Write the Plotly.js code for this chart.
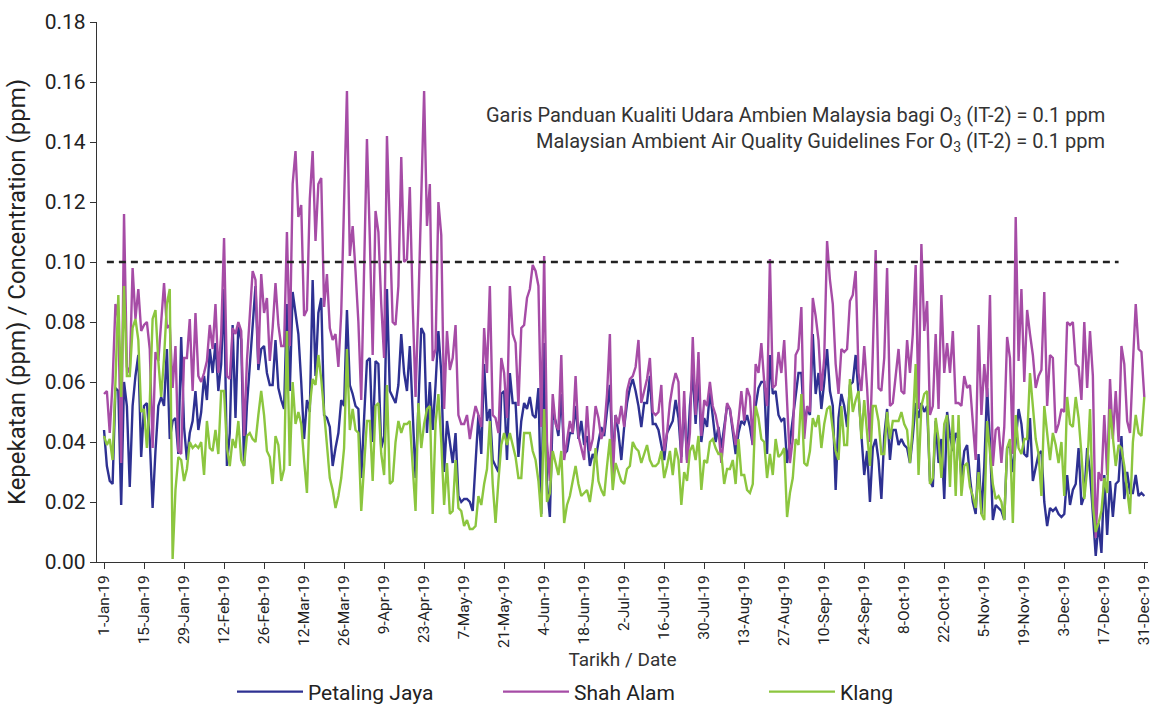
<!DOCTYPE html>
<html>
<head>
<meta charset="utf-8">
<script src="https://cdn.plot.ly/plotly-3.0.1.min.js"></script>
<style>html,body{margin:0;padding:0;background:#fff;}#chart{width:1152px;height:707px;}</style>
</head>
<body>
<div id="chart"></div>
<script>
const START_DATE = '2019-01-01';
const SERIES_NAMES = ['Petaling Jaya', 'Shah Alam', 'Klang'];
const GUIDELINE = 0.1;
const GUIDELINE_START = '2019-01-02';
const GUIDELINE_END = '2019-12-22';
const NOTE_MS = 'Garis Panduan Kualiti Udara Ambien Malaysia bagi O<sub>3</sub> (IT-2) = 0.1 ppm';
const NOTE_EN = 'Malaysian Ambient Air Quality Guidelines For O<sub>3</sub> (IT-2) = 0.1 ppm';

const TICK_DATES = ['2019-01-01','2019-01-15','2019-01-29','2019-02-12','2019-02-26','2019-03-12','2019-03-26','2019-04-09','2019-04-23','2019-05-07','2019-05-21','2019-06-04','2019-06-18','2019-07-02','2019-07-16','2019-07-30','2019-08-13','2019-08-27','2019-09-10','2019-09-24','2019-10-08','2019-10-22','2019-11-05','2019-11-19','2019-12-03','2019-12-17','2019-12-31'];
const TICK_LABELS = ['1-Jan-19','15-Jan-19','29-Jan-19','12-Feb-19','26-Feb-19','12-Mar-19','26-Mar-19','9-Apr-19','23-Apr-19','7-May-19','21-May-19','4-Jun-19','18-Jun-19','2-Jul-19','16-Jul-19','30-Jul-19','13-Aug-19','27-Aug-19','10-Sep-19','24-Sep-19','8-Oct-19','22-Oct-19','5-Nov-19','19-Nov-19','3-Dec-19','17-Dec-19','31-Dec-19'];

const PETALING_JAYA = [0.044,0.032,0.027,0.026,0.058,0.057,0.019,0.060,0.052,0.025,
0.052,0.062,0.069,0.035,0.052,0.053,0.041,0.018,0.037,0.052,
0.055,0.052,0.071,0.041,0.047,0.048,0.036,0.075,0.045,0.034,
0.043,0.047,0.057,0.044,0.050,0.062,0.054,0.071,0.063,0.073,
0.057,0.066,0.091,0.032,0.043,0.079,0.048,0.079,0.074,0.032,
0.052,0.066,0.078,0.092,0.064,0.071,0.072,0.063,0.059,0.059,
0.074,0.058,0.054,0.051,0.086,0.057,0.090,0.083,0.076,0.060,
0.041,0.054,0.050,0.094,0.062,0.083,0.088,0.049,0.048,0.045,
0.032,0.038,0.043,0.054,0.052,0.084,0.059,0.056,0.052,0.051,
0.028,0.048,0.067,0.068,0.040,0.067,0.066,0.038,0.042,0.091,
0.057,0.055,0.053,0.059,0.076,0.063,0.057,0.072,0.047,0.028,
0.052,0.078,0.076,0.043,0.060,0.044,0.059,0.077,0.063,0.030,
0.047,0.040,0.033,0.043,0.022,0.020,0.021,0.021,0.020,0.017,
0.034,0.049,0.036,0.066,0.047,0.051,0.034,0.032,0.030,0.056,
0.057,0.034,0.063,0.053,0.053,0.035,0.047,0.053,0.051,0.055,
0.049,0.048,0.058,0.016,0.073,0.026,0.015,0.050,0.047,0.042,
0.056,0.036,0.037,0.043,0.043,0.052,0.041,0.047,0.039,0.042,
0.032,0.036,0.034,0.040,0.045,0.042,0.051,0.059,0.034,0.049,
0.043,0.034,0.045,0.053,0.058,0.061,0.057,0.052,0.045,0.053,
0.053,0.062,0.046,0.046,0.044,0.039,0.034,0.043,0.045,0.047,
0.054,0.048,0.035,0.052,0.034,0.052,0.063,0.046,0.062,0.040,
0.048,0.045,0.057,0.048,0.040,0.045,0.038,0.045,0.052,0.051,
0.043,0.036,0.043,0.047,0.046,0.049,0.045,0.039,0.052,0.058,
0.060,0.060,0.036,0.069,0.056,0.057,0.049,0.047,0.048,0.033,
0.040,0.048,0.057,0.063,0.063,0.046,0.051,0.049,0.076,0.056,
0.063,0.051,0.060,0.071,0.057,0.052,0.024,0.048,0.056,0.052,
0.045,0.059,0.060,0.069,0.056,0.043,0.029,0.037,0.020,0.038,
0.041,0.034,0.021,0.042,0.051,0.034,0.044,0.044,0.039,0.041,
0.039,0.038,0.033,0.042,0.053,0.048,0.053,0.050,0.052,0.027,
0.025,0.047,0.033,0.041,0.021,0.050,0.042,0.037,0.043,0.041,
0.028,0.037,0.039,0.028,0.020,0.016,0.036,0.016,0.032,0.058,
0.040,0.014,0.019,0.018,0.017,0.014,0.038,0.039,0.030,0.040,
0.051,0.046,0.036,0.035,0.048,0.027,0.032,0.036,0.037,0.020,
0.012,0.018,0.017,0.018,0.016,0.015,0.016,0.029,0.019,0.024,
0.026,0.038,0.019,0.022,0.038,0.030,0.016,0.002,0.013,0.003,
0.029,0.009,0.027,0.015,0.026,0.027,0.042,0.021,0.030,0.023,
0.023,0.029,0.022,0.023,0.022];

const SHAH_ALAM = [0.056,0.057,0.043,0.060,0.086,0.081,0.033,0.116,0.065,0.063,
0.098,0.081,0.091,0.077,0.079,0.080,0.071,0.038,0.070,0.067,
0.080,0.093,0.078,0.079,0.058,0.072,0.037,0.036,0.068,0.068,
0.081,0.057,0.083,0.062,0.060,0.063,0.067,0.079,0.071,0.086,
0.063,0.076,0.108,0.062,0.061,0.078,0.076,0.080,0.077,0.042,
0.067,0.081,0.097,0.094,0.066,0.096,0.083,0.088,0.067,0.078,
0.093,0.079,0.072,0.072,0.110,0.072,0.126,0.137,0.115,0.119,
0.082,0.084,0.121,0.137,0.107,0.126,0.128,0.085,0.096,0.078,
0.074,0.076,0.065,0.083,0.119,0.157,0.102,0.112,0.097,0.080,
0.054,0.095,0.141,0.108,0.069,0.117,0.110,0.086,0.068,0.142,
0.107,0.080,0.079,0.092,0.135,0.100,0.101,0.125,0.086,0.055,
0.086,0.120,0.157,0.112,0.126,0.067,0.071,0.120,0.109,0.051,
0.077,0.064,0.068,0.079,0.049,0.046,0.046,0.049,0.041,0.047,
0.052,0.049,0.045,0.078,0.063,0.092,0.049,0.048,0.043,0.068,
0.063,0.048,0.092,0.076,0.073,0.052,0.078,0.079,0.088,0.091,
0.099,0.097,0.092,0.045,0.102,0.040,0.027,0.056,0.046,0.044,
0.069,0.034,0.040,0.047,0.043,0.062,0.042,0.038,0.034,0.052,
0.037,0.041,0.052,0.048,0.041,0.044,0.056,0.076,0.027,0.049,
0.046,0.052,0.045,0.057,0.061,0.062,0.065,0.074,0.053,0.057,
0.061,0.068,0.050,0.049,0.050,0.059,0.037,0.043,0.053,0.059,
0.063,0.060,0.033,0.057,0.033,0.043,0.075,0.049,0.070,0.042,
0.054,0.052,0.060,0.052,0.049,0.044,0.033,0.043,0.053,0.051,
0.045,0.039,0.047,0.057,0.047,0.058,0.055,0.039,0.066,0.063,
0.073,0.060,0.052,0.101,0.058,0.059,0.070,0.063,0.074,0.052,
0.033,0.041,0.069,0.071,0.085,0.041,0.052,0.050,0.088,0.082,
0.074,0.057,0.068,0.107,0.094,0.086,0.066,0.056,0.071,0.070,
0.071,0.087,0.089,0.097,0.063,0.057,0.072,0.058,0.040,0.070,
0.104,0.058,0.057,0.068,0.098,0.052,0.053,0.062,0.071,0.057,
0.056,0.074,0.063,0.076,0.099,0.051,0.106,0.077,0.087,0.049,
0.052,0.076,0.051,0.089,0.063,0.073,0.063,0.077,0.053,0.053,
0.052,0.062,0.058,0.059,0.045,0.034,0.079,0.049,0.066,0.055,
0.089,0.032,0.044,0.045,0.033,0.045,0.075,0.068,0.036,0.115,
0.067,0.091,0.060,0.084,0.076,0.069,0.058,0.062,0.064,0.090,
0.052,0.069,0.068,0.043,0.046,0.051,0.050,0.080,0.079,0.080,
0.066,0.065,0.054,0.080,0.058,0.077,0.062,0.008,0.030,0.027,
0.049,0.029,0.061,0.041,0.057,0.040,0.072,0.066,0.047,0.043,
0.066,0.086,0.071,0.070,0.055];

const KLANG = [0.042,0.039,0.041,0.034,0.060,0.089,0.055,0.092,0.062,0.062,
0.078,0.081,0.074,0.050,0.051,0.038,0.053,0.081,0.084,0.067,
0.055,0.068,0.086,0.091,0.001,0.024,0.035,0.034,0.027,0.031,
0.040,0.038,0.039,0.038,0.040,0.029,0.047,0.038,0.037,0.044,
0.036,0.057,0.057,0.038,0.032,0.041,0.038,0.047,0.034,0.032,
0.042,0.043,0.041,0.040,0.049,0.057,0.049,0.037,0.035,0.026,
0.042,0.039,0.027,0.031,0.077,0.032,0.060,0.046,0.050,0.046,
0.034,0.023,0.052,0.061,0.059,0.069,0.061,0.049,0.039,0.028,
0.024,0.018,0.022,0.028,0.038,0.071,0.044,0.051,0.044,0.043,
0.017,0.033,0.047,0.047,0.027,0.052,0.053,0.036,0.029,0.059,
0.026,0.027,0.040,0.047,0.043,0.046,0.046,0.047,0.030,0.017,
0.053,0.038,0.046,0.051,0.052,0.016,0.046,0.056,0.040,0.019,
0.033,0.016,0.017,0.034,0.018,0.017,0.012,0.014,0.011,0.011,
0.012,0.022,0.019,0.026,0.031,0.047,0.026,0.013,0.027,0.039,
0.043,0.039,0.043,0.039,0.035,0.028,0.028,0.043,0.043,0.043,
0.037,0.034,0.027,0.015,0.051,0.020,0.023,0.037,0.033,0.029,
0.037,0.013,0.019,0.022,0.027,0.032,0.026,0.022,0.023,0.024,
0.020,0.027,0.038,0.027,0.024,0.022,0.032,0.041,0.024,0.033,
0.030,0.027,0.026,0.031,0.032,0.040,0.038,0.037,0.033,0.036,
0.039,0.034,0.032,0.032,0.033,0.037,0.028,0.032,0.037,0.029,
0.038,0.034,0.019,0.030,0.027,0.037,0.039,0.034,0.042,0.024,
0.034,0.033,0.040,0.041,0.038,0.036,0.036,0.026,0.031,0.031,
0.034,0.026,0.041,0.029,0.029,0.024,0.023,0.026,0.052,0.048,
0.041,0.040,0.028,0.036,0.029,0.041,0.035,0.036,0.038,0.015,
0.023,0.028,0.041,0.039,0.056,0.033,0.032,0.037,0.048,0.045,
0.049,0.038,0.046,0.051,0.052,0.044,0.037,0.034,0.052,0.039,
0.039,0.061,0.050,0.054,0.057,0.041,0.054,0.043,0.032,0.052,
0.052,0.047,0.036,0.036,0.050,0.041,0.047,0.047,0.047,0.050,
0.046,0.044,0.033,0.046,0.066,0.029,0.052,0.056,0.057,0.026,
0.028,0.048,0.041,0.028,0.046,0.049,0.025,0.049,0.022,0.049,
0.022,0.032,0.033,0.025,0.022,0.018,0.030,0.016,0.014,0.047,
0.037,0.026,0.021,0.022,0.020,0.014,0.038,0.041,0.013,0.049,
0.038,0.036,0.041,0.041,0.063,0.052,0.041,0.036,0.022,0.052,
0.042,0.034,0.043,0.039,0.033,0.040,0.022,0.055,0.046,0.045,
0.055,0.048,0.036,0.021,0.031,0.051,0.019,0.010,0.013,0.017,
0.028,0.023,0.051,0.042,0.032,0.039,0.038,0.032,0.024,0.016,
0.040,0.049,0.043,0.042,0.055];

function dayDates(n) {
  const out = [];
  const t0 = Date.parse(START_DATE + 'T00:00:00Z');
  for (let i = 0; i < n; i++) {
    out.push(new Date(t0 + i * 86400000).toISOString().slice(0, 10));
  }
  return out;
}

const COLORS = ['#2E3192', '#A64CA6', '#8CC63F'];
const VALUES = [PETALING_JAYA, SHAH_ALAM, KLANG];

const traces = VALUES.map((v, i) => ({
  type: 'scatter',
  mode: 'lines',
  name: SERIES_NAMES[i],
  x: dayDates(v.length),
  y: v,
  line: {color: COLORS[i], width: 2.4},
  hoverinfo: 'x+y+name'
}));

traces.push({
  type: 'scatter',
  mode: 'lines',
  x: [GUIDELINE_START, GUIDELINE_END],
  y: [GUIDELINE, GUIDELINE],
  line: {color: '#222', width: 2.6, dash: '7px,5px'},
  showlegend: false,
  hoverinfo: 'skip'
});

const layout = {
  width: 1152,
  height: 707,
  margin: {l: 97, r: 4, t: 22, b: 145},
  paper_bgcolor: '#fff',
  plot_bgcolor: '#fff',
  font: {family: 'Roboto, sans-serif', color: '#222'},
  showlegend: true,
  legend: {
    orientation: 'h',
    xref: 'container', yref: 'container',
    x: 232 / 1152, xanchor: 'left',
    y: 1 - 692 / 707, yanchor: 'middle',
    font: {size: 21, color: '#222'},
    entrywidth: 185,
    entrywidthmode: 'pixels',
    itemwidth: 66
  },
  xaxis: {
    type: 'date',
    automargin: false,
    range: ['2018-12-29 13:00', '2020-01-01 07:00'],
    tickmode: 'array',
    tickvals: TICK_DATES,
    ticktext: TICK_LABELS,
    tickangle: -90,
    ticklabeloverflow: 'allow',
    tickfont: {size: 15.5, color: '#222'},
    ticks: 'outside', ticklen: 6, tickcolor: '#333',
    showline: true, linecolor: '#333', linewidth: 1.2,
    showgrid: false, zeroline: false,
    title: {text: 'Tarikh / Date', font: {size: 19, color: '#333'}, standoff: 20}
  },
  yaxis: {
    automargin: false,
    range: [0, 0.18],
    dtick: 0.02,
    tickformat: '.2f',
    tickfont: {size: 21, color: '#222'},
    ticks: 'outside', ticklen: 6, tickcolor: '#333',
    showline: true, linecolor: '#333', linewidth: 1.2,
    showgrid: false, zeroline: false,
    title: {text: 'Kepekatan (ppm) / Concentration (ppm)', font: {size: 24, color: '#222'}, standoff: 12}
  },
  annotations: [
    {xref: 'paper', yref: 'paper', x: 0.961, y: (562 - 116) / 540, xanchor: 'right', yanchor: 'middle',
     text: NOTE_MS, showarrow: false, font: {size: 20, color: '#333'}},
    {xref: 'paper', yref: 'paper', x: 0.961, y: (562 - 142) / 540, xanchor: 'right', yanchor: 'middle',
     text: NOTE_EN, showarrow: false, font: {size: 20, color: '#333'}}
  ]
};

Plotly.newPlot('chart', traces, layout, {displayModeBar: false, staticPlot: true});
</script>
</body>
</html>
